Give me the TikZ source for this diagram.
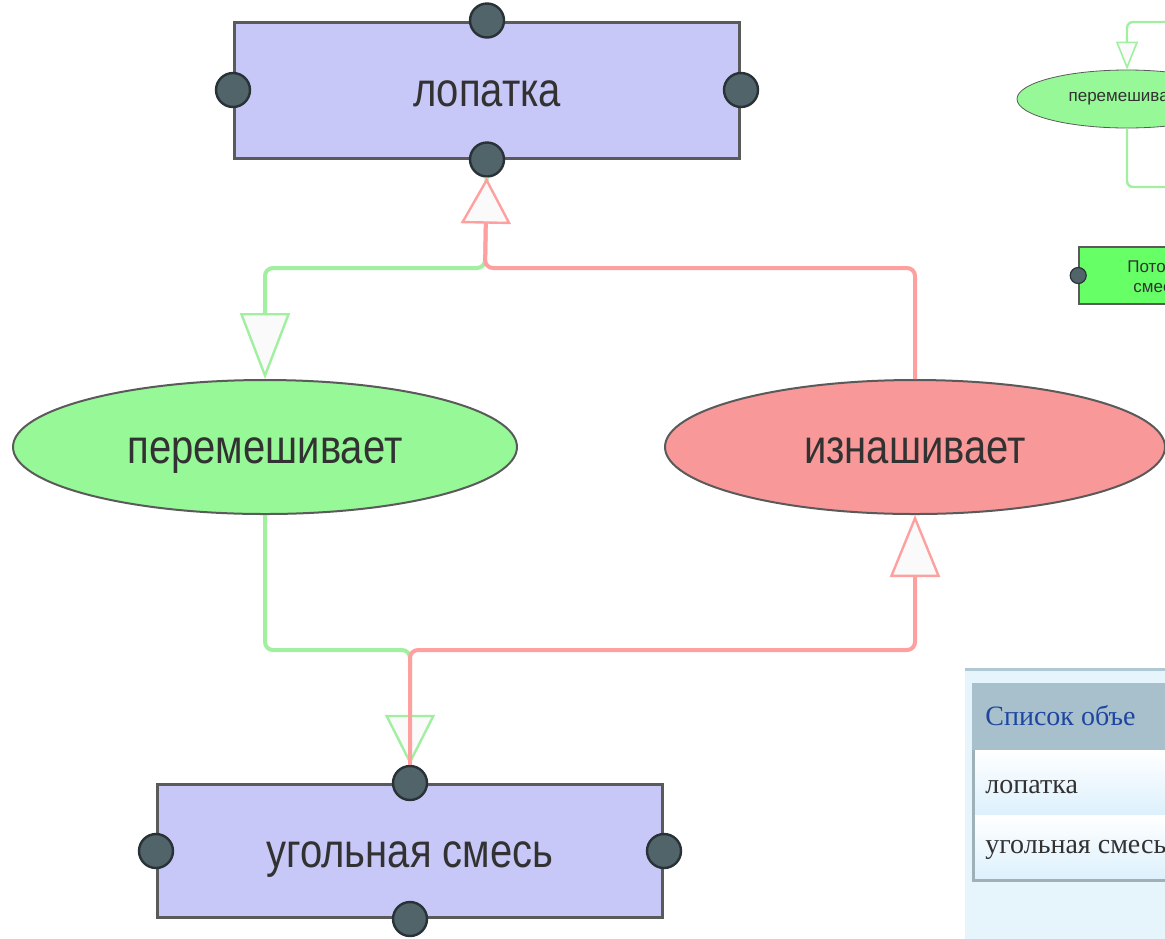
\documentclass[tikz,border=0pt]{standalone}
\usepackage{fontspec}
\setmainfont{Liberation Serif}
\setsansfont{Liberation Sans}
\usetikzlibrary{positioning,arrows.meta,shapes.geometric}
\definecolor{objfill}{RGB}{200,200,248}
\definecolor{mixfill}{RGB}{150,248,150}
\definecolor{wearfill}{RGB}{248,152,152}
\definecolor{flowfill}{RGB}{102,255,102}
\definecolor{mixline}{RGB}{160,240,160}
\definecolor{wearline}{RGB}{255,160,160}
\definecolor{boxline}{RGB}{90,90,90}
\definecolor{portfill}{RGB}{80,100,105}
\definecolor{portline}{RGB}{40,50,55}
\definecolor{labeltext}{RGB}{50,50,50}
\definecolor{tipfill}{RGB}{250,250,250}
\definecolor{panelblue}{RGB}{230,245,252}
\definecolor{panelline}{RGB}{176,200,212}
\definecolor{headfill}{RGB}{168,192,204}
\definecolor{headtext}{RGB}{30,70,160}
\definecolor{rowblue}{RGB}{220,240,252}
\definecolor{tableline}{RGB}{160,176,184}
\newcommand{\tall}[1]{\raisebox{-8pt}[0pt][0pt]{\scalebox{1}[1.2]{#1}}}
\tikzset{
  obj/.style={draw=boxline, fill=objfill, line width=1.5pt, minimum width=252.5pt, minimum height=68pt, font=\sffamily\fontsize{20}{24}\selectfont, text=labeltext},
  act/.style={ellipse, draw=boxline, line width=1pt, minimum width=252pt, minimum height=67pt, inner sep=0pt, font=\sffamily\fontsize{20}{24}\selectfont, text=labeltext},
  port/.style={circle, draw=portline, fill=portfill, line width=1.2pt, minimum size=17pt, inner sep=0pt},
  gl/.style={draw=mixline, line width=2pt, rounded corners=4pt},
  rl/.style={draw=wearline, line width=2pt, rounded corners=4pt},
  hollow/.style={-{Triangle[length=#1, width=25pt, fill=tipfill, line width=1.2pt]}},
  hollow/.default=31pt,
  small/.style={font=\sffamily\fontsize{8.5}{10}\selectfont, text=labeltext},
  cell/.style={anchor=base west, inner sep=0pt, font=\fontsize{14}{16}\selectfont, text=labeltext},
}

\begin{document}
\begin{tikzpicture}[x=0.5pt,y=-0.5pt]
\useasboundingbox (0,0) rectangle (1165,938);
\clip (0,0) rectangle (1165,938);
% objects and actions
\node[obj] (lopatka) at (487,90) {\tall{лопатка}};
\node[obj, minimum height=66.5pt] (smes) at (410,851) {\tall{угольная смесь}};
\node[act, fill=mixfill] (mix) at (265,447) {\tall{перемешивает}};
\node[act, fill=wearfill, minimum width=250pt] (wear) at (915,447) {\tall{изнашивает}};
\foreach \a in {north,west,east,south} {
  \node[port] (lp-\a) at (lopatka.\a) {};
  \node[port] (sp-\a) at (smes.\a) {};
}
\coordinate (jtop) at (485,268);
\coordinate (jbot) at (410,650);
\draw[gl, hollow=33pt] (lp-south) -- (jtop) -| (mix.north);
\draw[rl, hollow=23pt] (wear.north) |- (jtop) -- (lp-south);
\draw[gl, hollow=25pt] (mix.south) |- (jbot) -- (sp-north);
\draw[rl, hollow] (sp-north) -- (jbot) -| (wear.south);
% small diagram, top right
\node[ellipse, draw=boxline, fill=mixfill, minimum width=110pt, minimum height=29pt, inner sep=0pt, small] (smallmix) at (1127,99) {перемешивает};
\coordinate (sin) at (1200,22);
\coordinate (sout) at (1200,187);
\draw[draw=mixline, line width=1.2pt, rounded corners=3pt, -{Triangle[length=14pt, width=11pt, fill=tipfill, line width=0.8pt]}] (sin) -| (smallmix.north);
\draw[draw=mixline, line width=1.2pt, rounded corners=3pt] (smallmix.south) |- (sout);
\node[draw=boxline, fill=flowfill, line width=0.8pt, minimum width=91pt, minimum height=28.5pt] (flow) at (1170,275.5) {};
\node[port, minimum size=8pt, line width=0.6pt] (fp-west) at (flow.west) {};
\node[small, anchor=base west, inner sep=0pt] (flow1) at (1127,272) {Пото};
\node[small, anchor=base west, inner sep=0pt] (flow2) at (1133,292) {смес};
% object list, bottom right
\fill[panelblue] (965,668) rectangle (1200,945);
\draw[panelline, line width=1.5pt] (965,669) -- (1200,669);
\fill[headfill] (972,683) rectangle (1200,750);
\shade[top color=white, bottom color=rowblue] (972,750) rectangle (1200,815);
\shade[top color=white, bottom color=rowblue] (972,815) rectangle (1200,880);
\draw[tableline, line width=1.5pt] (973,750) -- (973,880) -- (1200,880);
\node[cell, text=headtext] (lhead) at (985,725) {Список объе};
\node[cell] (lrow1) at (985,793) {лопатка};
\node[cell] (lrow2) at (985,853) {угольная смесь};
\end{tikzpicture}
\end{document}
